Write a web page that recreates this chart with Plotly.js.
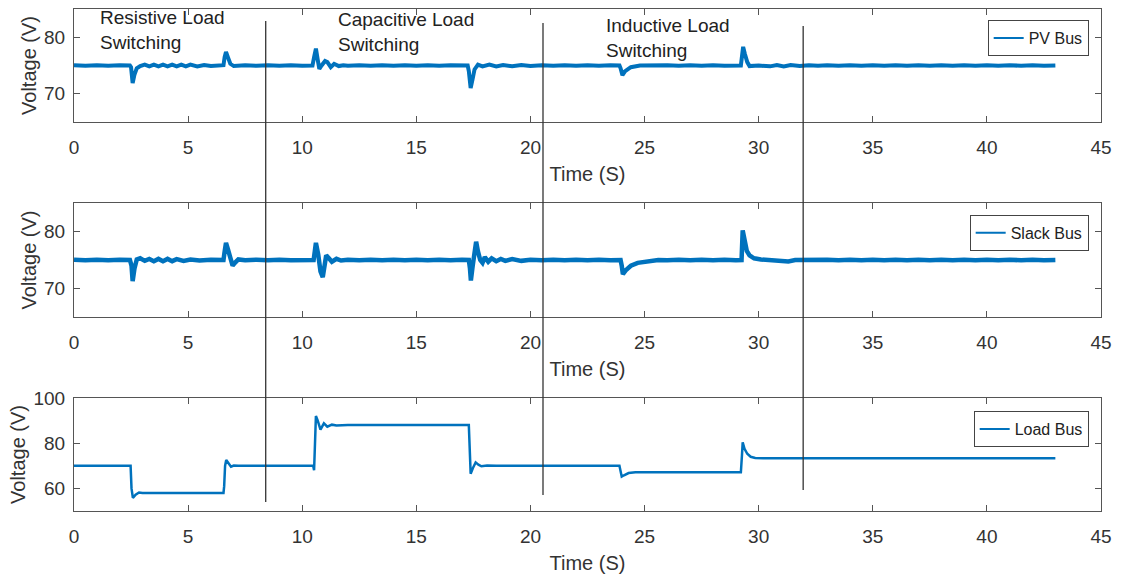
<!DOCTYPE html>
<html>
<head>
<meta charset="utf-8">
<script src="https://cdn.plot.ly/plotly-3.0.1.min.js"></script>
<style>html,body{margin:0;padding:0;background:#fff;}#chart{width:1123px;height:574px;}</style>
</head>
<body>
<div id="chart"></div>
<script>
// ---- data (time in s, voltage in V) ----
const seriesNames = ["PV Bus", "Slack Bus", "Load Bus"];

const pvBus = [
  [0,75.05],[0.5,74.95],[1,75.05],[1.5,74.95],[2,75.05],[2.45,75.0],[2.5,74.7],[2.57,71.9],[2.65,73.4],[2.75,74.5],
  [2.9,74.9],[3.1,75.15],[3.3,74.85],[3.5,75.15],[3.7,74.85],[3.9,75.15],[4.1,74.85],[4.3,75.15],[4.5,74.85],[4.7,75.15],
  [4.9,74.85],[5.1,75.15],[5.4,74.85],[5.7,75.1],[6.0,74.9],[6.3,75.05],[6.55,75.05],[6.6,76.5],[6.66,77.4],[6.75,76.4],
  [6.85,75.3],[7.0,74.9],[7.5,75.05],[8,74.95],[8.5,75.05],[9,74.95],[9.5,75.05],[10,74.95],[10.45,75.0],[10.52,76.5],
  [10.6,78.0],[10.68,76.0],[10.75,74.4],[10.85,75.0],[11.0,75.8],[11.1,75.6],[11.25,74.7],[11.4,75.3],[11.6,74.9],[11.8,75.05],
  [12,74.95],[12.5,75.05],[13,74.95],[13.5,75.05],[14,74.95],[14.5,75.05],[15,74.95],[15.5,75.05],[16,74.95],[16.5,75.05],
  [17,74.95],[17.25,75.0],[17.3,74.0],[17.38,71.0],[17.46,72.5],[17.55,74.3],[17.7,75.15],[17.9,74.85],[18.2,75.15],[18.5,74.85],
  [18.8,75.1],[19.2,74.85],[19.6,75.1],[20,74.9],[20.5,75.05],[21,74.95],[21.5,75.05],[22,74.95],[22.5,75.05],[23,74.95],
  [23.5,75.05],[23.9,75.0],[23.95,74.5],[24.03,73.3],[24.15,74.0],[24.4,74.7],[24.8,75.0],[25.2,75.05],[25.6,74.95],[26,75.05],
  [26.5,74.95],[27,75.05],[27.5,74.95],[28,75.05],[28.5,74.95],[29,75.05],[29.22,75.0],[29.28,77.0],[29.32,78.3],[29.4,77.0],
  [29.5,75.6],[29.6,74.9],[30,75.0],[30.5,74.85],[30.8,75.1],[31.1,74.85],[31.4,75.1],[31.8,74.9],[32.2,75.05],[32.6,74.95],
  [33,75.05],[33.5,74.95],[34,75.05],[34.5,74.95],[35,75.05],[35.5,74.95],[36,75.05],[36.5,74.95],[37,75.05],[37.5,74.95],
  [38,75.05],[38.5,74.95],[39,75.05],[39.5,74.95],[40,75.05],[40.5,74.95],[41,75.05],[41.5,74.95],[42,75.05],[42.5,74.95],[43,75.0]
];

const slackBus = [
  [0,75.05],[0.5,74.95],[1,75.05],[1.5,74.95],[2,75.05],[2.45,75.0],[2.52,74.0],[2.57,71.3],[2.65,73.5],[2.75,75.1],
  [2.9,75.3],[3.1,74.85],[3.3,75.2],[3.5,74.8],[3.7,75.2],[3.9,74.8],[4.1,75.2],[4.3,74.8],[4.5,75.15],[4.8,74.85],
  [5.1,75.1],[5.5,74.9],[6.0,75.05],[6.3,74.95],[6.55,75.0],[6.6,76.5],[6.66,78.0],[6.75,76.8],[6.85,75.0],[6.95,74.0],
  [7.05,74.5],[7.2,75.1],[7.5,74.95],[8,75.05],[8.5,74.95],[9,75.05],[9.5,74.95],[10,75.05],[10.5,75.0],[10.55,76.5],
  [10.6,78.0],[10.7,76.0],[10.8,73.0],[10.9,72.0],[10.98,73.8],[11.05,75.8],[11.15,75.4],[11.3,74.7],[11.5,75.2],[11.7,74.9],
  [12,75.05],[12.5,74.95],[13,75.05],[13.5,74.95],[14,75.05],[14.5,74.95],[15,75.05],[15.5,74.95],[16,75.05],[16.5,74.95],
  [17,75.05],[17.3,75.0],[17.35,73.5],[17.39,71.4],[17.47,74.0],[17.55,76.8],[17.62,78.2],[17.7,76.5],[17.8,75.0],[17.9,74.5],
  [18.0,75.5],[18.15,74.7],[18.3,75.3],[18.5,74.8],[18.7,75.2],[18.9,74.85],[19.2,75.15],[19.6,74.85],[20,75.05],[20.5,74.95],
  [21,75.05],[21.5,74.95],[22,75.05],[22.5,74.95],[23,75.05],[23.5,74.95],[23.95,75.0],[24.0,74.0],[24.05,72.5],[24.2,73.3],
  [24.4,74.0],[24.7,74.5],[25.1,74.8],[25.6,75.0],[26,74.95],[26.5,75.05],[27,74.95],[27.5,75.05],[28,74.95],[28.5,75.05],
  [29,74.95],[29.25,75.0],[29.3,80.2],[29.38,78.4],[29.48,76.6],[29.6,75.8],[29.8,75.3],[30.1,75.1],[30.4,75.0],[30.7,75.05],
  [31.0,74.85],[31.3,74.75],[31.6,75.0],[32,75.05],[32.5,74.95],[33,75.05],[33.5,74.95],[34,75.05],[34.5,74.95],[35,75.05],
  [35.5,74.95],[36,75.05],[36.5,74.95],[37,75.05],[37.5,74.95],[38,75.05],[38.5,74.95],[39,75.05],[39.5,74.95],[40,75.05],
  [40.5,74.95],[41,75.05],[41.5,74.95],[42,75.05],[42.5,74.95],[43,75.0]
];

const loadBus = [
  [0,70],[2.48,70],[2.52,60],[2.58,55.8],[2.7,57.2],[2.85,58.2],[3.0,58],[6.55,58],[6.58,61],[6.62,70],
  [6.67,72.6],[6.78,71.0],[6.88,69.6],[7.0,70.1],[7.2,70],[10.48,70],[10.52,68.0],[10.56,80],[10.6,92],[10.68,90],
  [10.8,86],[10.95,88.8],[11.1,87.3],[11.3,88.2],[11.5,87.8],[12,88],[17.3,88],[17.33,80],[17.38,66.5],[17.48,69],
  [17.6,71.5],[17.72,70.5],[17.85,69.8],[18.1,70.1],[18.5,70],[23.9,70],[23.95,66.5],[24.0,65.2],[24.1,65.8],[24.3,66.8],
  [24.6,67.1],[29.22,67.1],[29.27,75],[29.3,80.4],[29.38,77.5],[29.5,75.3],[29.65,74],[29.85,73.5],[30.2,73.3],[43,73.3]
];

const eventTimes = [8.4, 20.55, 31.95];
const eventLabels = ["Resistive Load<br>Switching", "Capacitive Load<br>Switching", "Inductive Load<br>Switching"];
const labelTimes = [1.07, 11.49, 23.22];
const xTickVals = [0, 5, 10, 15, 20, 25, 30, 35, 40, 45];
const busTickVals = [70, 80];
const loadTickVals = [60, 80, 100];

// ---- styling ----
const lineColor = "#0072BD";
const axisColor = "#555555";
const textColor = "#333333";
const FONT = "Liberation Sans, Arial, Helvetica, sans-serif";

function mkTrace(data, xa, ya, width) {
  return {
    x: data.map(d => d[0]), y: data.map(d => d[1]),
    type: "scatter", mode: "lines", showlegend: false,
    xaxis: xa, yaxis: ya,
    line: {color: lineColor, width: width},
    hoverinfo: "skip"
  };
}
// legend-only entries (thin sample line like the original)
function legendEntry(name, xa, ya, legendId) {
  return {
    x: [null], y: [null], type: "scatter", mode: "lines", name: name,
    xaxis: xa, yaxis: ya, legend: legendId, showlegend: true,
    line: {color: lineColor, width: 2}, hoverinfo: "skip"
  };
}

const traces = [
  mkTrace(pvBus, "x", "y", 4),
  mkTrace(slackBus, "x2", "y2", 4.5),
  mkTrace(loadBus, "x3", "y3", 2.5),
  legendEntry(seriesNames[0], "x", "y", "legend"),
  legendEntry(seriesNames[1], "x2", "y2", "legend2"),
  legendEntry(seriesNames[2], "x3", "y3", "legend3")
];

function xAxis(anchor) {
  return {
    anchor: anchor, range: [0, 45], tickvals: xTickVals,
    showline: true, mirror: "ticks", linecolor: axisColor, linewidth: 1,
    ticks: "inside", ticklen: 6, tickcolor: axisColor, tickwidth: 1,
    showgrid: false, zeroline: false,
    tickfont: {family: FONT, size: 19, color: textColor},
    ticklabelstandoff: 8,
    title: {text: "Time (S)", font: {family: FONT, size: 20, color: textColor}, standoff: 10}
  };
}
function yAxis(anchor, domain, range, tv) {
  return {
    anchor: anchor, domain: domain, range: range, tickvals: tv,
    showline: true, mirror: "ticks", linecolor: axisColor, linewidth: 1,
    ticks: "inside", ticklen: 6, tickcolor: axisColor, tickwidth: 1,
    showgrid: false, zeroline: false,
    tickfont: {family: FONT, size: 19, color: textColor},
    ticklabelstandoff: 4,
    title: {text: "Voltage (V)", font: {family: FONT, size: 20, color: textColor}, standoff: 2}
  };
}
function legendBox(yTop) {
  return {
    x: 0.988, y: yTop, xanchor: "right", yanchor: "top",
    bgcolor: "#ffffff", bordercolor: "#444444", borderwidth: 1,
    font: {family: FONT, size: 16, color: "#222222"},
    itemwidth: 30, tracegroupgap: 0
  };
}

const shapes = eventTimes.map((t, i) => ({
  type: "line", xref: "x", yref: "paper", x0: t, x1: t,
  y0: [0.018, 0.032, 0.042][i], y1: [0.976, 0.972, 0.966][i],
  line: {color: "#333333", width: 1.3}
}));
const labelY = [0.958, 0.954, 0.942];
const annotations = eventLabels.map((txt, i) => ({
  text: txt, xref: "x", yref: "paper", x: labelTimes[i], y: labelY[i],
  xanchor: "left", yanchor: "middle", align: "left", showarrow: false,
  font: {family: FONT, size: 19, color: "#222222"}
}));

const layout = {
  width: 1123, height: 574,
  margin: {l: 74, r: 22, t: 9, b: 63},
  paper_bgcolor: "#ffffff", plot_bgcolor: "#ffffff",
  showlegend: true,
  xaxis: xAxis("y"),
  yaxis: yAxis("x", [0.7749, 1], [65, 85], busTickVals),
  xaxis2: xAxis("y2"),
  yaxis2: yAxis("x2", [0.3865, 0.6135], [65, 85], busTickVals),
  xaxis3: xAxis("y3"),
  yaxis3: yAxis("x3", [0, 0.2251], [50, 100], loadTickVals),
  legend: legendBox(0.978),
  legend2: legendBox(0.590),
  legend3: legendBox(0.199),
  shapes: shapes,
  annotations: annotations
};

Plotly.newPlot("chart", traces, layout, {staticPlot: true, displayModeBar: false});
</script>
</body>
</html>
